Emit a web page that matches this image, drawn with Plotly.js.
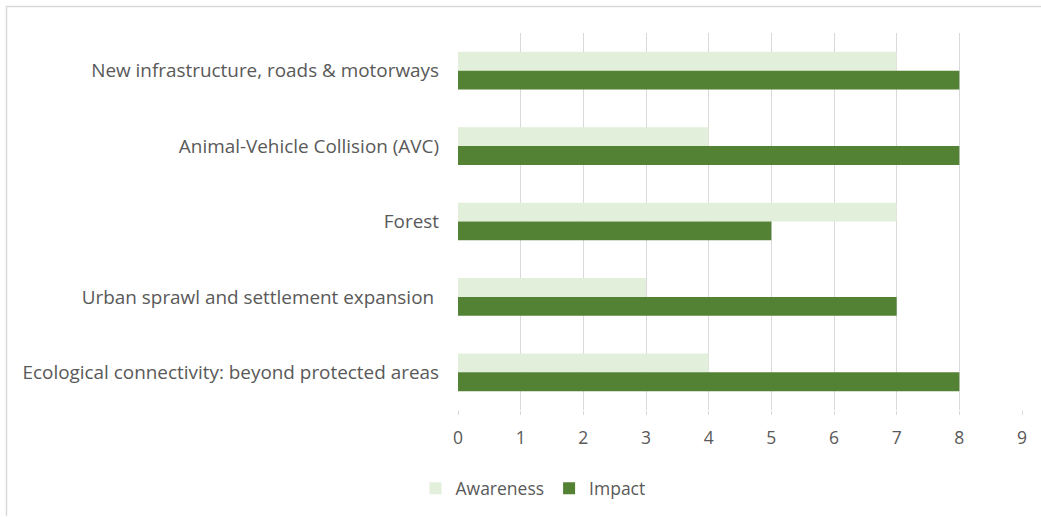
<!DOCTYPE html>
<html>
<head>
<meta charset="utf-8">
<script src="https://cdn.plot.ly/plotly-3.0.1.min.js"></script>
<style>html,body{margin:0;padding:0;background:#fff;}#chart{width:1041px;height:517px;}</style>
</head>
<body>
<div id="chart"></div>
<script>
const categories = [
  "New infrastructure, roads & motorways",
  "Animal-Vehicle Collision (AVC)",
  "Forest",
  "Urban sprawl and settlement expansion ",
  "Ecological connectivity: beyond protected areas"
];
const awareness = [7, 4, 7, 3, 4];
const impact = [8, 8, 5, 7, 8];
const xTicks = [0, 1, 2, 3, 4, 5, 6, 7, 8, 9];

const font = "'Open Sans', 'Liberation Sans', sans-serif";
const traces = [
  {type: 'bar', orientation: 'h', name: 'Awareness', y: categories, x: awareness,
   marker: {color: '#E2EFDA'}, hoverinfo: 'x+y'},
  {type: 'bar', orientation: 'h', name: 'Impact', y: categories, x: impact,
   marker: {color: '#548235'}, hoverinfo: 'x+y'}
];
const layout = {
  width: 1041, height: 517,
  margin: {l: 458, r: 19, t: 33, b: 106},
  paper_bgcolor: '#fff', plot_bgcolor: '#fff',
  barmode: 'group', bargap: 0.5, bargroupgap: 0,
  font: {family: font, color: '#595959', size: 18},
  xaxis: {range: [0, 9], tickvals: xTicks, showgrid: true, gridcolor: '#D9D9D9', gridwidth: 1,
          zeroline: false, showline: false, ticks: 'outside', ticklen: 4, tickcolor: '#D9D9D9',
          ticklabelstandoff: 8, tickfont: {size: 17.5, color: '#595959', family: font}},
  yaxis: {autorange: 'reversed', showgrid: false, zeroline: false, showline: false, ticks: '',
          ticklabelstandoff: 18, tickfont: {size: 18.9, color: '#595959', family: font}},
  showlegend: true,
  legend: {orientation: 'h', x: 0.133, xanchor: 'center', y: -0.205, yanchor: 'middle',
           font: {size: 17.5, color: '#595959', family: font}, traceorder: 'normal',
           itemwidth: 30},
  shapes: [
    {type: 'line', xref: 'paper', yref: 'paper', x0: (6-458)/564, x1: (1041-458)/564,
     y0: (411-6.5)/378, y1: (411-6.5)/378, line: {color: '#D9D9D9', width: 1.5}},
    {type: 'line', xref: 'paper', yref: 'paper', x0: (6.5-458)/564, x1: (6.5-458)/564,
     y0: (411-6)/378, y1: (411-517)/378, line: {color: '#D9D9D9', width: 1.5}}
  ]
};
Plotly.newPlot('chart', traces, layout, {displayModeBar: false, staticPlot: true});
</script>
</body>
</html>
